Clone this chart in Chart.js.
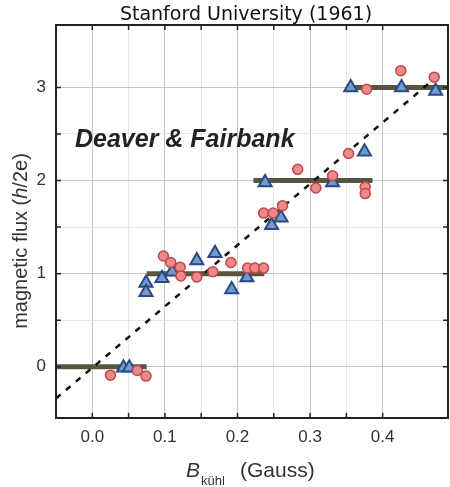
<!DOCTYPE html>
<html>
<head>
  <meta charset="UTF-8" />
  <title>Stanford University (1961)</title>
  <script src="https://cdn.jsdelivr.net/npm/chart.js"></script>
  <style>
    body { margin: 0; background: #fff; }
  </style>
</head>
<body>
<canvas id="fluxChart" width="450" height="487"></canvas>

<script>
  // circles (red) and triangles (blue)
  const circleX = [0.025, 0.062, 0.074,
    0.098, 0.108, 0.121, 0.122, 0.144, 0.166, 0.191, 0.214, 0.224, 0.236,
    0.236, 0.249, 0.262, 0.283, 0.308, 0.331, 0.353, 0.376, 0.376,
    0.378, 0.425, 0.471];
  const circleY = [-0.09, -0.04, -0.10,
    1.19, 1.12, 1.07, 0.975, 0.965, 1.02, 1.12, 1.06, 1.06, 1.06,
    1.65, 1.65, 1.73, 2.12, 1.92, 2.05, 2.29, 1.93, 1.86,
    2.98, 3.18, 3.11];

  const triX = [0.043, 0.051,
    0.074, 0.074, 0.096, 0.110, 0.144, 0.169, 0.192, 0.213,
    0.238, 0.247, 0.260, 0.331, 0.375,
    0.356, 0.426, 0.473];
  const triY = [-0.01, -0.01,
    0.90, 0.80, 0.95, 1.02, 1.14, 1.22, 0.83, 0.96,
    1.98, 1.52, 1.60, 1.98, 2.31,
    3.00, 3.00, 2.96];

  // flux quantum steps
  const stepLevel = [0, 1, 2, 3];
  const stepStart = [-0.05, 0.075, 0.222, 0.357];
  const stepEnd = [0.075, 0.237, 0.386, 0.49];

  // dashed classical line
  const lineX = [-0.05, 0.48];
  const lineY = [-0.34, 3.15];

  const xTickLabels = ['0.0', '0.1', '0.2', '0.3', '0.4'];
  const yTickLabels = ['0', '1', '2', '3'];

  const toPoints = (xs, ys) => xs.map((x, i) => ({ x: x, y: ys[i] }));

  const isMultiple = (v, step) => Math.abs(v / step - Math.round(v / step)) < 1e-6;

  const stepSets = stepLevel.map((lvl, i) => ({
    type: 'line',
    data: [{ x: stepStart[i], y: lvl }, { x: stepEnd[i], y: lvl }],
    borderColor: '#57553f',
    borderWidth: 5,
    pointRadius: 0,
    order: 4
  }));

  const framePlugin = {
    id: 'frame',
    afterDatasetsDraw(chart) {
      const ctx = chart.ctx;
      const a = chart.chartArea;
      const xs = chart.scales.x;
      const ys = chart.scales.y;
      ctx.save();
      ctx.strokeStyle = '#222';
      ctx.lineWidth = 1.5;
      // inner tick marks on all four sides
      ctx.beginPath();
      xs.ticks.forEach(t => {
        if (!isMultiple(t.value, 0.05) || t.value <= xs.min || t.value >= xs.max) return;
        const px = xs.getPixelForValue(t.value);
        ctx.moveTo(px, a.bottom); ctx.lineTo(px, a.bottom - 5);
        ctx.moveTo(px, a.top); ctx.lineTo(px, a.top + 5);
      });
      ys.ticks.forEach(t => {
        if (!isMultiple(t.value, 0.5) || t.value <= ys.min || t.value >= ys.max) return;
        const py = ys.getPixelForValue(t.value);
        ctx.moveTo(a.left, py); ctx.lineTo(a.left + 5, py);
        ctx.moveTo(a.right, py); ctx.lineTo(a.right - 5, py);
      });
      ctx.stroke();
      ctx.lineWidth = 2;
      ctx.strokeRect(a.left, a.top, a.right - a.left, a.bottom - a.top);
      ctx.restore();
    },
    afterDraw(chart) {
      const ctx = chart.ctx;
      ctx.save();
      ctx.fillStyle = '#111';
      ctx.textBaseline = 'alphabetic';
      ctx.textAlign = 'center';
      ctx.font = '19px "DejaVu Sans"';
      ctx.fillText('Stanford University (1961)', 246, 20);

      ctx.textAlign = 'left';
      ctx.fillStyle = '#222';
      ctx.font = 'italic bold 25px "Liberation Sans"';
      ctx.fillText('Deaver & Fairbank', 75, 147);

      // x axis title
      ctx.fillStyle = '#333';
      ctx.font = 'italic 21px "Liberation Sans"';
      ctx.fillText('B', 186, 477);
      ctx.font = '13px "Liberation Sans"';
      ctx.fillText('kühl', 201, 485);
      ctx.font = '21px "Liberation Sans"';
      ctx.fillText('(Gauss)', 240, 477);

      // y axis title, rotated
      ctx.translate(27, 241);
      ctx.rotate(-Math.PI / 2);
      const parts = [
        ['magnetic flux (', '20px "Liberation Sans"'],
        ['h', 'italic 20px "Liberation Sans"'],
        ['/2e)', '20px "Liberation Sans"']
      ];
      let total = 0;
      parts.forEach(p => { ctx.font = p[1]; total += ctx.measureText(p[0]).width; });
      let cx = -total / 2;
      parts.forEach(p => {
        ctx.font = p[1];
        ctx.fillText(p[0], cx, 0);
        cx += ctx.measureText(p[0]).width;
      });
      ctx.restore();
    }
  };

  const chartConfig = {
    type: 'scatter',
    data: {
      datasets: [
        {
          label: 'circles',
          data: toPoints(circleX, circleY),
          pointStyle: 'circle',
          pointRadius: 5,
          backgroundColor: '#ea8a8a',
          borderColor: '#bf4848',
          borderWidth: 1.5,
          order: 0
        },
        {
          label: 'triangles',
          data: toPoints(triX, triY),
          pointStyle: 'triangle',
          pointRadius: 7.5,
          backgroundColor: '#6f9bd3',
          borderColor: '#2b4a80',
          borderWidth: 2,
          order: 1
        },
        {
          type: 'line',
          label: 'line',
          data: toPoints(lineX, lineY),
          borderColor: '#111',
          borderWidth: 2.5,
          borderDash: [6, 7],
          pointRadius: 0,
          order: 3
        },
        ...stepSets
      ]
    },
    options: {
      responsive: false,
      animation: false,
      events: [],
      layout: { autoPadding: false, padding: { top: 25, right: 2, left: 0, bottom: 0 } },
      plugins: {
        legend: { display: false },
        tooltip: { enabled: false },
        title: { display: false }
      },
      scales: {
        x: {
          type: 'linear',
          min: -0.05,
          max: 0.49,
          afterFit: s => { s.height = 69; s.paddingLeft = 0; s.paddingRight = 0; },
          border: { display: false },
          grid: {
            drawTicks: false,
            color: c => isMultiple(c.tick.value, 0.1) ? '#c6c6c6' : '#e6e6e6',
            lineWidth: 1
          },
          ticks: {
            stepSize: 0.05,
            autoSkip: false,
            maxRotation: 0,
            padding: 9,
            color: '#333',
            font: { family: 'Liberation Sans', size: 17 },
            callback: v => {
              if (!isMultiple(v, 0.1) || v < -1e-9) return '';
              return xTickLabels[Math.round(v * 10)] || '';
            }
          }
        },
        y: {
          type: 'linear',
          min: -0.55,
          max: 3.67,
          afterFit: s => { s.width = 56; s.paddingTop = 0; s.paddingBottom = 0; },
          border: { display: false },
          grid: {
            drawTicks: false,
            color: c => isMultiple(c.tick.value, 1) ? '#c6c6c6' : '#e6e6e6',
            lineWidth: 1
          },
          ticks: {
            stepSize: 0.5,
            autoSkip: false,
            padding: 10,
            color: '#333',
            font: { family: 'Liberation Sans', size: 17 },
            callback: v => {
              if (!isMultiple(v, 1) || v < -1e-9) return '';
              return yTickLabels[Math.round(v)] || '';
            }
          }
        }
      }
    },
    plugins: [framePlugin]
  };

  const fluxChart = new Chart(document.getElementById('fluxChart'), chartConfig);
</script>
</body>
</html>
